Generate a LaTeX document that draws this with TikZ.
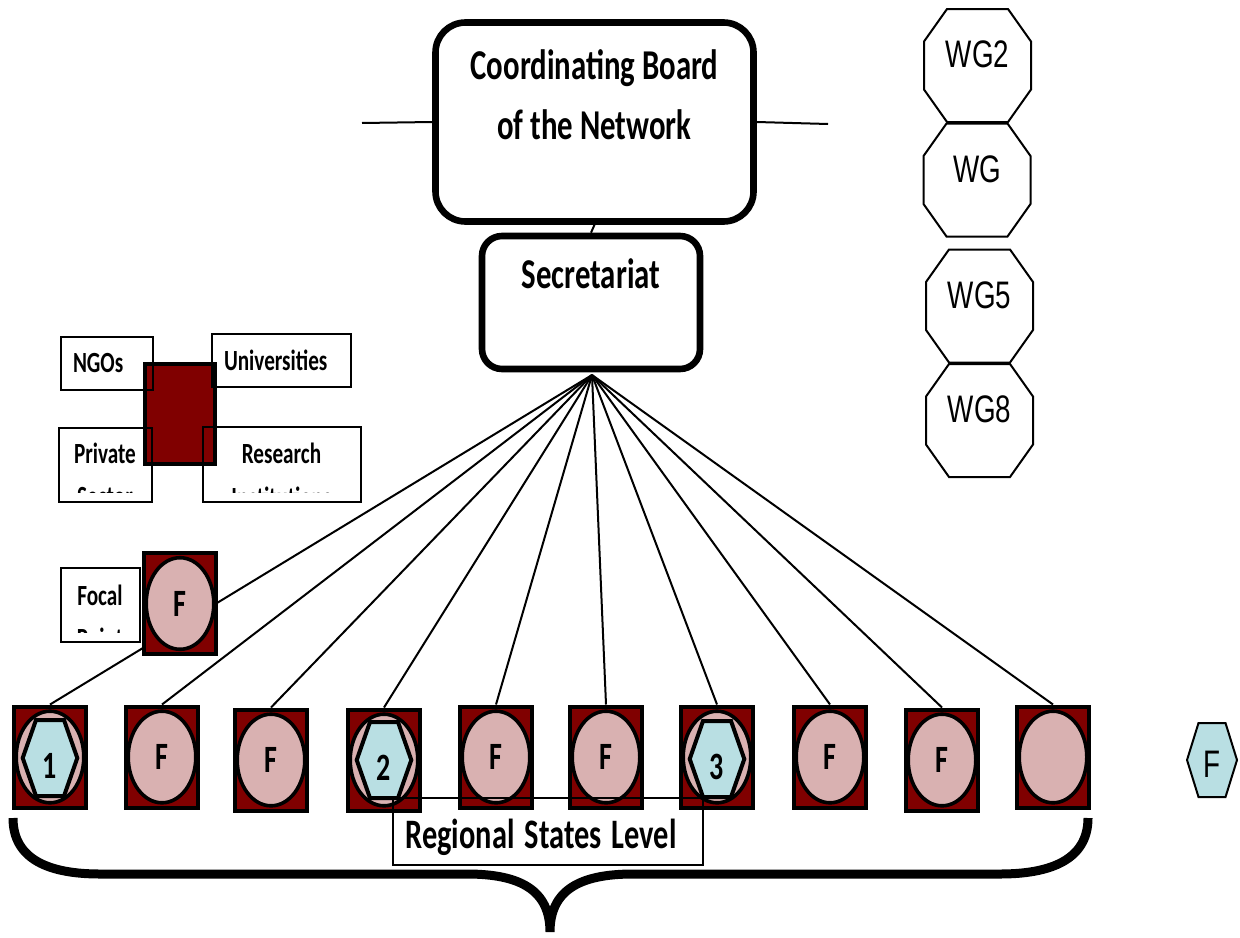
\documentclass[tikz,border=0pt]{standalone}
\usepackage{fontspec}
\setmainfont{Carlito}
\newfontfamily\arialfont{Liberation Sans}

\definecolor{maroonfill}{HTML}{800000}
\definecolor{pinkfill}{HTML}{D9B1B1}
\definecolor{bluefill}{HTML}{B9DFE3}

% text in the chart is stretched upright
\newcommand{\vstretch}[1]{\scalebox{1}[1.38]{#1}}
\newcommand{\sunk}[2]{\raisebox{#1}[0pt][0pt]{\vstretch{#2}}}

\tikzset{
  link/.style={line width=1pt},
  bigbox/.style={draw, line width=3.3pt, inner sep=0pt, font=\bfseries\fontsize{15.4}{21.7}\selectfont},
  orgbox/.style={draw, line width=1pt, inner sep=0pt, font=\bfseries\fontsize{10.6}{21.7}\selectfont},
  orgtext/.style={inner sep=0pt, align=center, anchor=north, font=\bfseries\fontsize{10.6}{21.7}\selectfont},
  brownbox/.style={draw, fill=maroonfill, line width=2pt, minimum width=35pt, minimum height=50pt},
  statebox/.style={draw, fill=maroonfill, line width=2pt, inner sep=0pt,
    minimum width=35.8pt, minimum height=50.5pt, font=\bfseries\fontsize{14}{16}\selectfont,
    path picture={\draw[fill=pinkfill, line width=1.8pt] (path picture bounding box.center)
      ellipse [x radius=16.9pt, y radius=22.9pt];}},
  % cut corners: #1 across, #2 down, #3 line width, #4 fill
  polyshape/.style n args={4}{inner sep=0pt,
    path picture={\draw[line width=#3, fill=#4]
      ([xshift=#1+#3/2, yshift=-#3/2]path picture bounding box.north west)
      -- ([xshift=-#1-#3/2, yshift=-#3/2]path picture bounding box.north east)
      -- ([xshift=-#3/2, yshift=-#2-#3/2]path picture bounding box.north east)
      -- ([xshift=-#3/2, yshift=#2+#3/2]path picture bounding box.south east)
      -- ([xshift=-#1-#3/2, yshift=#3/2]path picture bounding box.south east)
      -- ([xshift=#1+#3/2, yshift=#3/2]path picture bounding box.south west)
      -- ([xshift=#3/2, yshift=#2+#3/2]path picture bounding box.south west)
      -- ([xshift=#3/2, yshift=-#2-#3/2]path picture bounding box.north west)
      -- cycle;}},
  hexa/.style={polyshape={6.65pt}{19pt}{2pt}{bluefill}, minimum width=29.3pt, minimum height=40pt,
    font=\bfseries\fontsize{14}{16}\selectfont},
  lonehexa/.style={polyshape={5.75pt}{18.5pt}{1pt}{bluefill}, minimum width=26pt, minimum height=38pt,
    font=\arialfont\fontsize{13.9}{16}\selectfont},
  wg/.style={polyshape={11.5pt}{16.25pt}{1pt}{white}, minimum width=54.5pt, minimum height=57.5pt,
    font=\arialfont\fontsize{13.9}{16}\selectfont},
}

\begin{document}
\begin{tikzpicture}[x=0.5pt, y=-0.5pt]
  \useasboundingbox (0,0) rectangle (1240,937);

  % partners
  \node[brownbox] (partners) at (180,414) {};
  \node[orgbox, text width=33.5pt, inner xsep=6.25pt, minimum height=26.5pt, align=left] (ngos) at (106.5,363) {\vstretch{NGOs}};
  \node[orgbox, text width=57pt, inner xsep=6.25pt, minimum height=26.5pt, align=left] (univ) at (281,360) {\vstretch{Universities}};
  \node[orgbox, minimum width=46.5pt, minimum height=37pt,
    path picture={\clip (path picture bounding box.north west) rectangle ([yshift=4.5pt]path picture bounding box.south east);
      \node[orgtext] (privatetext) at ([yshift=-4.75pt]path picture bounding box.north) {\vstretch{Private}\\\vstretch{Sector}};}] (private) at (105,464.5) {};
  \node[orgbox, minimum width=79pt, minimum height=37.5pt,
    path picture={\clip (path picture bounding box.north west) rectangle ([yshift=4.5pt]path picture bounding box.south east);
      \node[orgtext] (researchtext) at ([yshift=-5.25pt]path picture bounding box.north) {\vstretch{Research}\\\vstretch{Institutions}};}] (research) at (281.5,464) {};

  % top of the network
  \node[bigbox, rounded corners=15pt, minimum width=159pt, minimum height=99.5pt, text height=15pt, text depth=57.6pt] (board) at (594.5,122)
    {\vstretch{\begin{tabular}[t]{@{}c@{}}Coordinating Board\\of the Network\end{tabular}}};
  \node[bigbox, rounded corners=10pt, minimum width=109pt, minimum height=66.5pt, text height=15pt, text depth=28.8pt] (sec) at (591,302.5) {\vstretch{Secretariat}};
  \coordinate (leftend) at (362,123);
  \coordinate (rightend) at (828,124);
  \coordinate (hub) at (592,375);
  \draw[link] (leftend) -- (board.west);
  \draw[link] (board.east) -- (rightend);
  \draw[link] (board.south) -- (sec.north);

  % regional states
  \node[statebox] (s1) at (50,757) {};
  \node[statebox] (s2) at (162,757) {\vstretch{F}};
  \node[statebox] (s3) at (271,760) {\vstretch{F}};
  \node[statebox] (s4) at (384,760) {};
  \node[statebox] (s5) at (496,757) {\vstretch{F}};
  \node[statebox] (s6) at (606,757) {\vstretch{F}};
  \node[statebox] (s7) at (717,757) {};
  \node[statebox] (s8) at (830,757) {\vstretch{F}};
  \node[statebox] (s9) at (942,760) {\vstretch{F}};
  \node[statebox] (s10) at (1053,757) {};
  \node[hexa] (h1) at (50,758) {\sunk{-10.1pt}{1}};
  \node[hexa] (h2) at (384,760) {\sunk{-10.1pt}{2}};
  \node[hexa] (h3) at (717,759) {\sunk{-10.1pt}{3}};

  \draw[link] (hub) -- (s1.north);
  \draw[link] (hub) -- (s2.north);
  \draw[link] (hub) -- (s3.north);
  \draw[link] (hub) -- (s4.north);
  \draw[link] (hub) -- (s5.north);
  \draw[link] (hub) -- (s6.north);
  \draw[link] (hub) -- (s7.north);
  \draw[link] (hub) -- (s8.north);
  \draw[link] (hub) -- (s9.north);
  \draw[link] (hub) -- (s10.north);

  % focal point
  \node[statebox] (focalf) at (180,603.5) {\vstretch{F}};
  \node[orgbox, minimum width=39.5pt, minimum height=37pt,
    path picture={\clip (path picture bounding box.north west) rectangle ([yshift=4.75pt]path picture bounding box.south east);
      \node[orgtext] (focaltext) at ([yshift=-5.75pt]path picture bounding box.north) {\vstretch{Focal}\\\vstretch{Point}};}] (focal) at (100,604.5) {};

  \node[orgbox, text width=142pt, inner xsep=6.5pt, minimum height=33.5pt, align=left, text height=17pt, text depth=0pt,
    font=\bfseries\fontsize{15.2}{18}\selectfont] (regional) at (547.5,831) {\vstretch{Regional States Level}};
  \draw[line width=4.5pt] (13,818) .. controls (13,860) and (50,874) .. (100,874) -- (467,874)
    .. controls (520,874) and (550,890) .. (550,932) .. controls (550,890) and (580,874) .. (633,874)
    -- (1000,874) .. controls (1050,874) and (1088,860) .. (1088,818);

  % working groups
  \node[wg] (wg2) at (977.5,65.5) {\sunk{-1.15pt}{WG2}};
  \node[wg] (wg) at (977,180) {\sunk{-1.15pt}{WG}};
  \node[wg] (wg5) at (979.5,306) {\sunk{-1.15pt}{WG5}};
  \node[wg] (wg8) at (979.5,420.5) {\sunk{-1.15pt}{WG8}};
  \node[lonehexa] (lonef) at (1212,760) {\sunk{-8.7pt}{F}};
\end{tikzpicture}
\end{document}
